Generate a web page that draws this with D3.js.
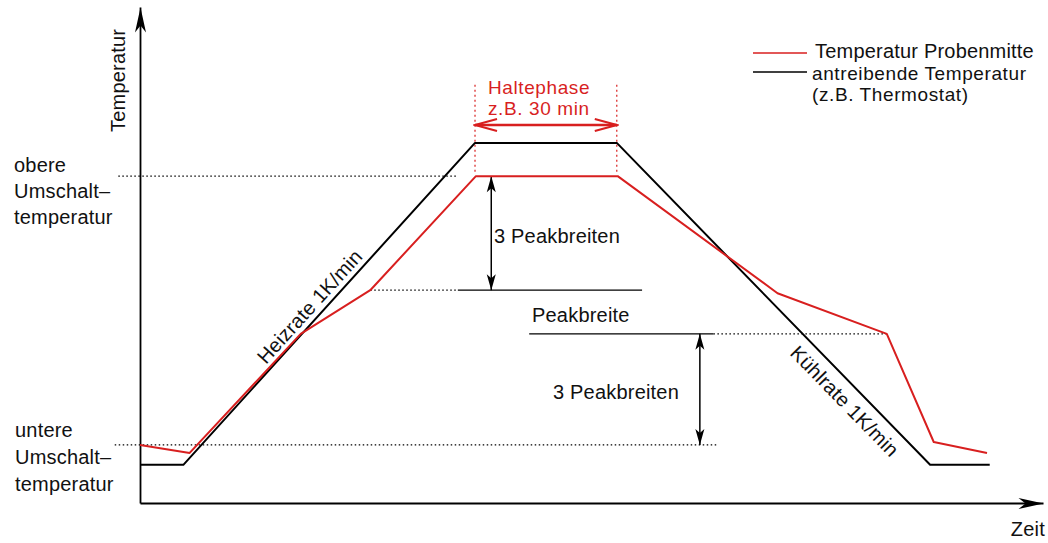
<!DOCTYPE html>
<html>
<head>
<meta charset="utf-8">
<script src="https://cdn.jsdelivr.net/npm/d3@7"></script>
<style>
  html, body { margin: 0; padding: 0; background: #fff; }
  svg { display: block; }
  text { font-family: "Liberation Sans", Arial, Helvetica, sans-serif; font-size: 20px; letter-spacing: 0.2px; fill: #111; }
  text.tight { font-size: 19px; letter-spacing: 0.6px; }
</style>
</head>
<body>
<script>
// ---- data (time in arbitrary units 0..100, temperature in arbitrary units 0..100) ----
const timeDrive = [0, 4.8, 37.1, 52.8, 87.5, 94.1];
const tempDrive = [7.7, 7.7, 72.6, 72.6, 7.7, 7.7];
const timeSample = [0, 5.5, 17.8, 25.5, 37.2, 52.9, 70.6, 82.7, 87.9, 93.8];
const tempSample = [11.7, 10.1, 34.1, 42.9, 65.9, 65.9, 42.3, 34.1, 12.3, 10.1];

const upperSwitch = 65.9;   // obere Umschalttemperatur
const lowerSwitch = 11.7;   // untere Umschalttemperatur
const peakLevel1 = 42.9;    // 3 Peakbreiten below upper switch
const peakLevel2 = 34.1;    // Peakbreite level
const holdStart = 37.1, holdEnd = 52.8;

const seriesNames = ["Temperatur Probenmitte", "antreibende Temperatur", "(z.B. Thermostat)"];
const axisLabels = ["Temperatur", "Zeit"];

const RED = "#d81f1f";

const W = 1048, H = 543;
const svg = d3.select("body").append("svg").attr("width", W).attr("height", H);
svg.append("rect").attr("width", W).attr("height", H).attr("fill", "#fff");

const x = d3.scaleLinear().domain([0, 100]).range([140, 1043]);
const y = d3.scaleLinear().domain([0, 100]).range([503, 7]);

// ---- markers ----
const defs = svg.append("defs");
defs.append("marker").attr("id", "axisArrow")
  .attr("viewBox", "-27 -7 28 14").attr("refX", 0).attr("refY", 0)
  .attr("markerUnits", "userSpaceOnUse").attr("markerWidth", 28).attr("markerHeight", 14)
  .attr("orient", "auto")
  .append("path").attr("d", "M0,0 L-25,-5.5 L-18,0 L-25,5.5 Z").attr("fill", "#000");
defs.append("marker").attr("id", "blackHead")
  .attr("viewBox", "-17 -6 18 12").attr("refX", 0).attr("refY", 0)
  .attr("markerUnits", "userSpaceOnUse").attr("markerWidth", 18).attr("markerHeight", 12)
  .attr("orient", "auto-start-reverse")
  .append("path").attr("d", "M0,0 L-16,-4.5 L-12,0 L-16,4.5 Z").attr("fill", "#000");
defs.append("marker").attr("id", "redHead")
  .attr("viewBox", "-24 -8 26 16").attr("refX", 0).attr("refY", 0)
  .attr("markerUnits", "userSpaceOnUse").attr("markerWidth", 26).attr("markerHeight", 16)
  .attr("orient", "auto-start-reverse")
  .append("path").attr("d", "M-22,-6 L0,0 L-22,6").attr("fill", "none")
  .attr("stroke", RED).attr("stroke-width", 2);

// ---- axes ----
const gx = svg.append("g").attr("transform", `translate(0,${y(0)})`)
  .call(d3.axisBottom(x).tickValues([]).tickSizeOuter(0));
const gy = svg.append("g").attr("transform", `translate(${x(0)},0)`)
  .call(d3.axisLeft(y).tickValues([]).tickSizeOuter(0));
[gx, gy].forEach(g => g.select(".domain")
  .attr("stroke", "#000").attr("stroke-width", 1.8).attr("marker-end", "url(#axisArrow)"));

svg.append("text").attr("transform", `translate(125,132) rotate(-90)`).text(axisLabels[0]);
svg.append("text").attr("x", 1045).attr("y", 536).attr("text-anchor", "end").text(axisLabels[1]);

// ---- reference lines ----
const dotted = (x1, x2, yv, col) => svg.append("line")
  .attr("x1", x(x1)).attr("x2", x(x2)).attr("y1", y(yv)).attr("y2", y(yv))
  .attr("stroke", col || "#000").attr("stroke-width", 1.2).attr("stroke-dasharray", "1.5,2.5");
const solid = (x1, x2, yv) => svg.append("line")
  .attr("x1", x(x1)).attr("x2", x(x2)).attr("y1", y(yv)).attr("y2", y(yv))
  .attr("stroke", "#000").attr("stroke-width", 1.3);

dotted(-2.4, 35.2, upperSwitch);
dotted(-2.8, 64.0, lowerSwitch);
dotted(25.5, 35.2, peakLevel1);
solid(35.2, 55.6, peakLevel1);
solid(43.1, 63.5, peakLevel2);
dotted(63.5, 82.7, peakLevel2);

// vertical double arrows
const vArrow = (xv, y1, y2) => svg.append("line")
  .attr("x1", x(xv)).attr("x2", x(xv)).attr("y1", y(y1)).attr("y2", y(y2))
  .attr("stroke", "#000").attr("stroke-width", 1.5)
  .attr("marker-start", "url(#blackHead)").attr("marker-end", "url(#blackHead)");
vArrow(38.9, upperSwitch, peakLevel1);
vArrow(62.0, peakLevel2, lowerSwitch);

// Haltephase
[holdStart, holdEnd].forEach(t => svg.append("line")
  .attr("x1", x(t)).attr("x2", x(t)).attr("y1", y(84.3)).attr("y2", y(66.5))
  .attr("stroke", RED).attr("stroke-width", 1.2).attr("stroke-dasharray", "2,3"));
svg.append("line")
  .attr("x1", x(holdStart)).attr("x2", x(holdEnd)).attr("y1", y(76.2)).attr("y2", y(76.2))
  .attr("stroke", RED).attr("stroke-width", 2.5)
  .attr("marker-start", "url(#redHead)").attr("marker-end", "url(#redHead)");
svg.append("text").attr("class", "tight").attr("x", 488).attr("y", 94).style("fill", RED).text("Haltephase");
svg.append("text").attr("class", "tight").attr("x", 488).attr("y", 115).style("fill", RED).text("z.B. 30 min");

// ---- series ----
const line = d3.line().x(d => x(d[0])).y(d => y(d[1]));
const drive = timeDrive.map((t, i) => [t, tempDrive[i]]);
const sample = timeSample.map((t, i) => [t, tempSample[i]]);

svg.append("path").attr("d", line(drive)).attr("fill", "none")
  .attr("stroke", "#000").attr("stroke-width", 2).attr("stroke-linejoin", "round");
svg.append("path").attr("d", line(sample)).attr("fill", "none")
  .attr("stroke", RED).attr("stroke-width", 2).attr("stroke-linejoin", "round");

// rate labels along the drive slopes
const angUp = Math.atan2(y(tempDrive[2]) - y(tempDrive[1]), x(timeDrive[2]) - x(timeDrive[1])) * 180 / Math.PI;
const angDown = Math.atan2(y(tempDrive[4]) - y(tempDrive[3]), x(timeDrive[4]) - x(timeDrive[3])) * 180 / Math.PI;
svg.append("text").attr("transform", `translate(266,365) rotate(${angUp})`).text("Heizrate 1K/min");
svg.append("text").attr("transform", `translate(789,354) rotate(${angDown})`).text("Kühlrate 1K/min");

// annotation texts
svg.append("text").attr("x", 494).attr("y", 243).text("3 Peakbreiten");
svg.append("text").attr("x", 532).attr("y", 322).text("Peakbreite");
svg.append("text").attr("x", 553).attr("y", 399).text("3 Peakbreiten");

// left labels
[["obere", 172], ["Umschalt–", 198], ["temperatur", 224]].forEach(([t, yy]) =>
  svg.append("text").attr("x", 14).attr("y", yy).text(t));
[["untere", 437], ["Umschalt–", 464], ["temperatur", 491]].forEach(([t, yy]) =>
  svg.append("text").attr("x", 15).attr("y", yy).text(t));

// ---- legend ----
const legend = svg.append("g");
legend.append("line").attr("x1", 753).attr("x2", 807).attr("y1", 53).attr("y2", 53)
  .attr("stroke", RED).attr("stroke-width", 1.5);
legend.append("text").attr("x", 815).attr("y", 58).text(seriesNames[0]);
legend.append("line").attr("x1", 753).attr("x2", 807).attr("y1", 72).attr("y2", 72)
  .attr("stroke", "#000").attr("stroke-width", 1.5);
legend.append("text").attr("class", "tight").attr("x", 812).attr("y", 80).text(seriesNames[1]);
legend.append("text").attr("class", "tight").attr("x", 812).attr("y", 101).text(seriesNames[2]);
</script>
</body>
</html>
